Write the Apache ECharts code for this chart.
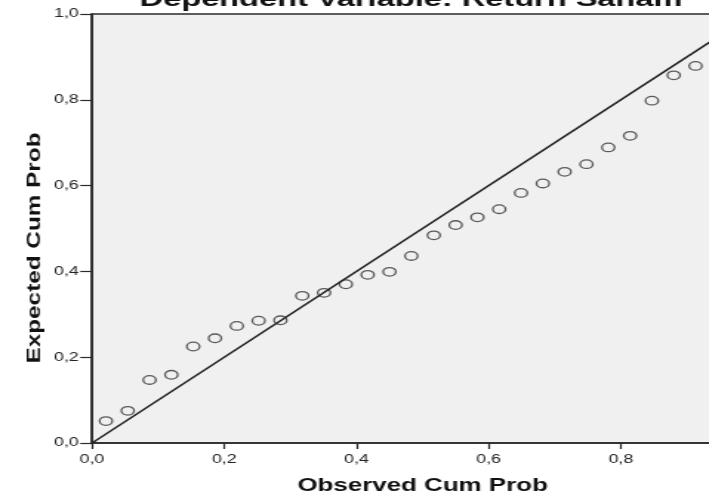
<!DOCTYPE html>
<html>
<head>
<meta charset="utf-8">
<title>Normal P-P Plot</title>
<script src="https://cdn.jsdelivr.net/npm/echarts@6/dist/echarts.min.js"></script>
<style>
    html, body { margin: 0; padding: 0; background: #fff; overflow: hidden; }
    /* the source picture is stretched sideways, so draw narrow and stretch the box */
    .pp_plot {
        width: 479px;
        height: 497px;
        transform: scaleX(1.48);
        transform-origin: 0 0;
    }
</style>
</head>
<body>
<div class="pp_plot"></div>
<script>
    // Observed Cum Prob (x) of each residual
    var observed = [0.021, 0.054, 0.087, 0.120, 0.153, 0.186, 0.219, 0.252, 0.285, 0.318,
        0.351, 0.384, 0.417, 0.450, 0.483, 0.517, 0.550, 0.583, 0.616, 0.649,
        0.682, 0.715, 0.748, 0.781, 0.814, 0.847, 0.880, 0.913];
    // Expected Cum Prob (y)
    var expected = [0.051, 0.075, 0.147, 0.159, 0.225, 0.244, 0.273, 0.285, 0.286, 0.343,
        0.350, 0.370, 0.392, 0.399, 0.436, 0.484, 0.508, 0.526, 0.545, 0.583,
        0.605, 0.632, 0.650, 0.689, 0.716, 0.798, 0.857, 0.879];
    // reference line y = x
    var diagonal = [[0, 0], [1, 1]];
    var axisMin = 0, axisMax = 1, axisStep = 0.2;

    var points = observed.map(function (x, i) { return [x, expected[i]]; });

    // 0.4 -> "0,4"
    function commaLabel(v) {
        return v.toFixed(1).replace('.', ',');
    }

    var chart = echarts.init(document.querySelector('.pp_plot'));

    var option = {
        backgroundColor: '#fff',
        animation: false,
        textStyle: { fontFamily: 'Liberation Sans, Arial, sans-serif' },
        grid: {
            left: 62.2,
            top: 14,
            width: 446.6,
            height: 429,
            // the plot runs off the right edge in the source, so don't squeeze it in
            outerBoundsMode: 'none',
            containLabel: false,
            show: true,
            backgroundColor: '#f0f0f0',
            borderColor: '#2a2a2a',
            borderWidth: 1.4
        },
        xAxis: {
            type: 'value',
            min: axisMin,
            max: axisMax,
            interval: axisStep,
            name: 'Observed Cum Prob',
            nameLocation: 'middle',
            nameGap: 34,
            nameTextStyle: { color: '#111', fontSize: 17.5, fontWeight: 'bold' },
            axisLine: { lineStyle: { color: '#2a2a2a', width: 1.6 } },
            axisTick: { length: 6, lineStyle: { color: '#2a2a2a', width: 1.2 } },
            axisLabel: { color: '#222', fontSize: 12, margin: 11, formatter: commaLabel },
            splitLine: { show: false }
        },
        yAxis: {
            type: 'value',
            min: axisMin,
            max: axisMax,
            interval: axisStep,
            axisLine: { lineStyle: { color: '#2a2a2a', width: 1.6 } },
            axisTick: { length: 8, lineStyle: { color: '#2a2a2a', width: 1.2 } },
            axisLabel: { color: '#222', fontSize: 12, margin: 9, formatter: commaLabel },
            splitLine: { show: false }
        },
        graphic: [
            // chart subtitle, cut off at the top of the picture
            {
                type: 'text',
                x: 277.7,
                y: 0,
                style: {
                    text: 'Dependent Variable: Return Saham',
                    font: 'bold 22px Liberation Sans, Arial, sans-serif',
                    fill: '#111',
                    align: 'center',
                    verticalAlign: 'middle'
                }
            },
            // y axis title, tall and narrow like the source
            {
                type: 'text',
                x: 23.6,
                y: 248,
                rotation: Math.PI / 2,
                scaleX: 1.87,
                style: {
                    text: 'Expected Cum Prob',
                    font: 'bold 13px Liberation Sans, Arial, sans-serif',
                    fill: '#111',
                    align: 'center',
                    verticalAlign: 'middle'
                }
            }
        ],
        series: [
            {
                name: 'diagonal',
                type: 'line',
                data: diagonal,
                symbol: 'none',
                silent: true,
                lineStyle: { color: '#222', width: 1.5 }
            },
            {
                name: 'residual',
                type: 'scatter',
                data: points,
                symbol: 'circle',
                symbolSize: 8.6,
                itemStyle: {
                    color: 'rgba(0,0,0,0)',
                    borderColor: '#333',
                    borderWidth: 1.3
                }
            }
        ]
    };

    chart.setOption(option);
</script>
</body>
</html>
